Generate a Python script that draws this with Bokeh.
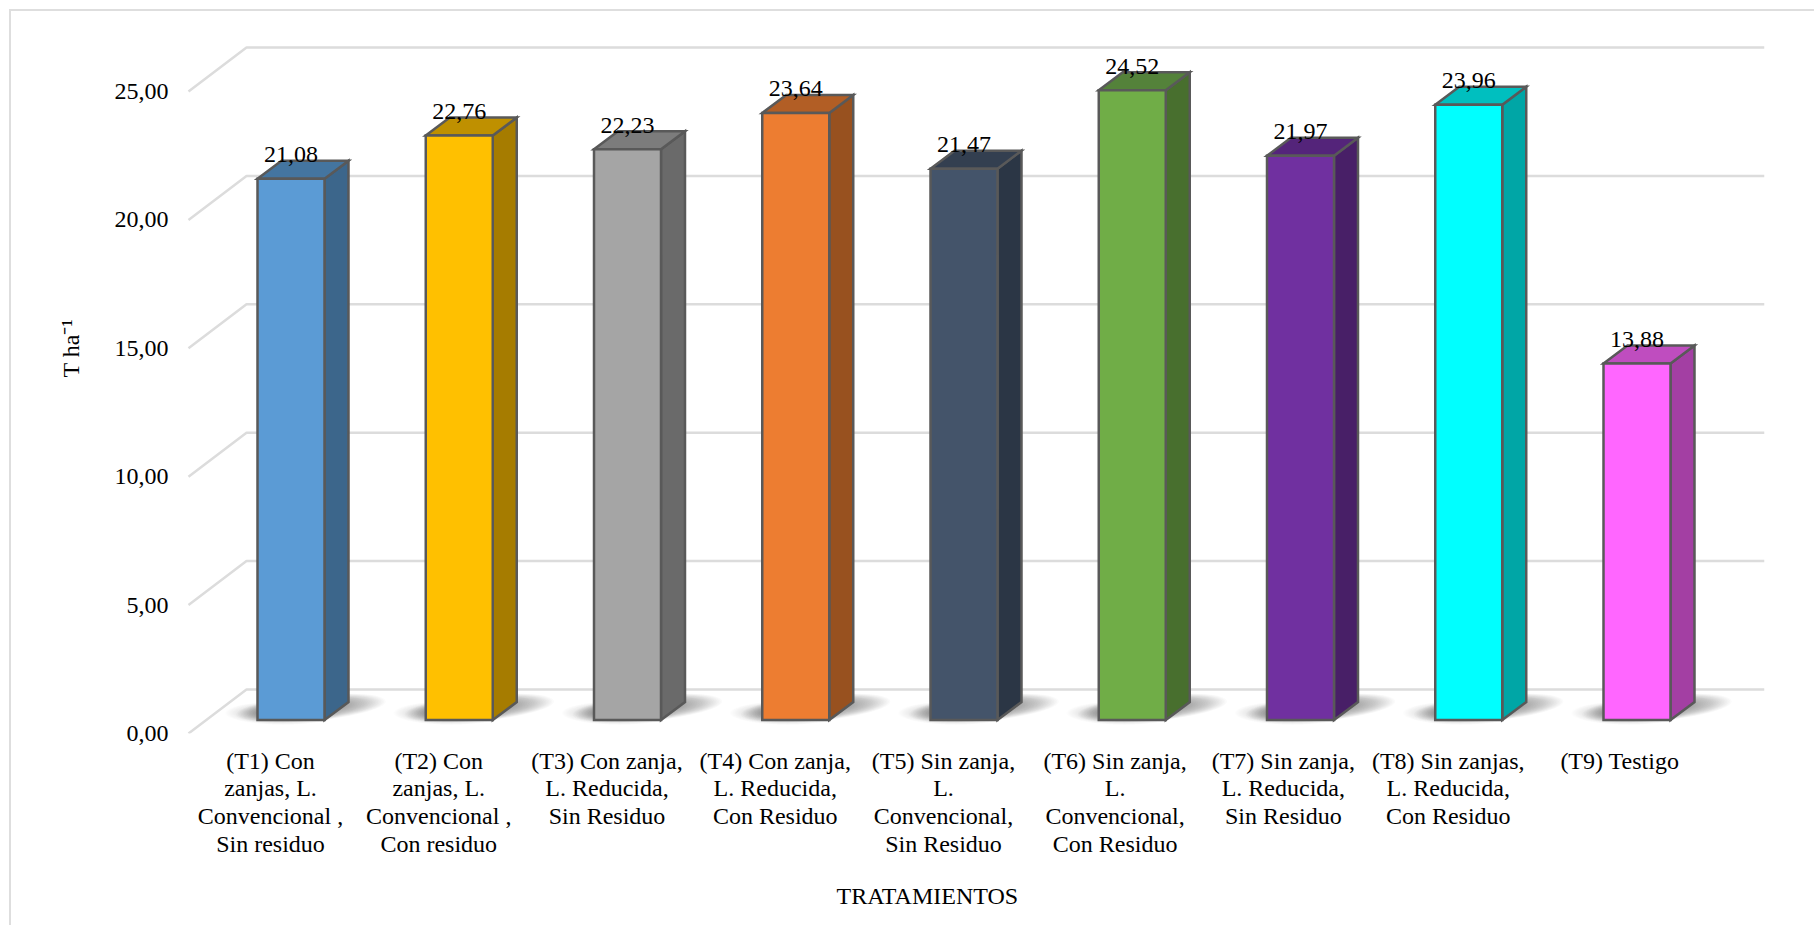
from bokeh.embed import file_html
from bokeh.models import FixedTicker, InlineStyleSheet, LinearAxis, Range1d, Title
from bokeh.plotting import figure
from bokeh.resources import INLINE

# Yield per treatment (T ha-1)
treatments = [
    "(T1) Con\nzanjas, L.\nConvencional ,\nSin residuo",
    "(T2) Con\nzanjas, L.\nConvencional ,\nCon residuo",
    "(T3) Con zanja,\nL. Reducida,\nSin Residuo",
    "(T4) Con zanja,\nL. Reducida,\nCon Residuo",
    "(T5) Sin zanja,\nL.\nConvencional,\nSin Residuo",
    "(T6) Sin zanja,\nL.\nConvencional,\nCon Residuo",
    "(T7) Sin zanja,\nL. Reducida,\nSin Residuo",
    "(T8) Sin zanjas,\nL. Reducida,\nCon Residuo",
    "(T9) Testigo",
]
values = [21.08, 22.76, 22.23, 23.64, 21.47, 24.52, 21.97, 23.96, 13.88]
value_labels = ["21,08", "22,76", "22,23", "23,64", "21,47", "24,52", "21,97", "23,96", "13,88"]
y_ticks = [0, 5, 10, 15, 20, 25]
y_tick_labels = ["0,00", "5,00", "10,00", "15,00", "20,00", "25,00"]

front_colors = ["#5B9BD5", "#FFC000", "#A5A5A5", "#ED7D31", "#44546A", "#70AD47", "#7030A0", "#00FFFF", "#FF66FF"]
top_colors = ["#4475A0", "#BF9000", "#7C7C7C", "#B25E25", "#333F50", "#54823A", "#54247A", "#00BFBF", "#BF4DBF"]
side_colors = ["#3C668B", "#A67C00", "#6A6A6A", "#98511F", "#2B3645", "#486F2E", "#481F67", "#00A6A6", "#A33FA3"]

FONT = "Liberation Serif"
W, H = 1814, 925
FRAME_L, FRAME_R, FRAME_T, FRAME_B = 185, 1764, 20, 733

# Pixel sizes of one unit along each scale
PX_PER_CAT = 168.25
PX_PER_VAL = 25.68
FIRST_TICK_PX = 270      # centre of the first category label
BAR_BASE_PX = 719.5      # baseline of the bars, set back from the axis plane

def dx(px):
    return px / PX_PER_CAT

def dv(px):
    return px / PX_PER_VAL

x_start = 1 + dx(FRAME_L - FIRST_TICK_PX)
x_end = 1 + dx(FRAME_R - FIRST_TICK_PX)

# Chart border: only its top and left edges fall inside the page
border_css = InlineStyleSheet(css="""
:host::after {
  content: "";
  position: absolute;
  left: 9px; top: 9px; right: 0; bottom: 0;
  border-left: 2.5px solid #DEDEDE;
  border-top: 2px solid #DEDEDE;
  pointer-events: none;
  z-index: 5;
}
""")

p = figure(
    width=W, height=H, output_backend="svg", toolbar_location=None,
    x_range=Range1d(x_start, x_end),
    y_range=Range1d(dv(BAR_BASE_PX - FRAME_B), dv(BAR_BASE_PX - FRAME_T)),
    y_axis_location=None,
    min_border_left=FRAME_L, min_border_right=W - FRAME_R,
    min_border_top=FRAME_T, min_border_bottom=H - FRAME_B,
    background_fill_color="white", border_fill_color="white",
    outline_line_color=None,
    stylesheets=[border_css],
)
p.grid.visible = False

# The scale and the walls sit on a plane in front of the bars
p.extra_y_ranges = {"front": Range1d(0, dv(FRAME_B - FRAME_T))}

yaxis = LinearAxis(
    y_range_name="front",
    ticker=FixedTicker(ticks=y_ticks),
    major_label_overrides=dict(zip(y_ticks, y_tick_labels)),
    major_label_text_font=FONT, major_label_text_font_size="24px",
    major_label_text_color="black", major_label_standoff=11,
    axis_line_color=None, major_tick_line_color=None, minor_tick_line_color=None,
)
p.add_layout(yaxis, "left")

# Later categories sit a touch to the right of the regular spacing
label_ticks = [1, 2, 3, 4, 5, 6.02, 7.02, 8, 9.02]

xaxis = p.xaxis[0]
xaxis.ticker = FixedTicker(ticks=label_ticks)
xaxis.major_label_overrides = dict(zip(label_ticks, treatments))
xaxis.major_label_text_font = FONT
xaxis.major_label_text_font_size = "24px"
xaxis.major_label_text_color = "black"
xaxis.major_label_text_line_height = 1.07
xaxis.major_label_standoff = 8
xaxis.major_label_orientation = "horizontal"
xaxis.axis_line_color = None
xaxis.major_tick_line_color = None
xaxis.minor_tick_line_color = None

# Axis titles are set as side titles so they can sit off the frame's centre;
# a blank title opens the gap under the category labels
p.add_layout(Title(text=" ", standoff=13, text_font=FONT, text_font_size="1px"), "below")
p.add_layout(Title(text="TRATAMIENTOS", align="left", offset=651, standoff=10,
                   text_font=FONT, text_font_size="24px", text_font_style="normal",
                   text_color="black"), "below")
p.add_layout(Title(text="T ha⁻¹", align="left", offset=356, standoff=55,
                   text_font=FONT, text_font_size="24px", text_font_style="normal",
                   text_color="black"), "left")

# Back wall gridlines with their slanted run back from the axis
x_wall_front = x_start + dx(188 - FRAME_L)
x_wall_back = x_start + dx(246 - FRAME_L)
for v in y_ticks:
    p.line([x_wall_front, x_wall_back, x_end], [v, v + dv(44), v + dv(44)],
           y_range_name="front", line_color="#DCDCDC", line_width=2.5)

BAR_W = dx(67)
DEPTH_X = dx(24)
DEPTH_Y = dv(18)

lefts = [i + 1 + dx(257 - FIRST_TICK_PX) for i in range(len(values))]
rights = [l + BAR_W for l in lefts]
centres = [l + BAR_W / 2 for l in lefts]

# Soft floor shadow built from stacked translucent ellipses:
# a faint wide pool plus a darker core towards the right of each bar
STEPS = 40
for step in range(STEPS):
    f = (1 - step / STEPS) ** 0.8
    p.ellipse([c - dx(8) for c in centres], [dv(7)] * len(centres),
              width=dx(116 * f), height=dv(24 * f),
              fill_color="#202020", fill_alpha=0.009, line_color=None)
    p.ellipse([c + dx(20) for c in centres], [dv(12)] * len(centres),
              width=dx(150 * f), height=dv(26 * f), angle=0.09,
              fill_color="#202020", fill_alpha=0.02, line_color=None)

# Box faces
p.patches(
    [[r, r + DEPTH_X, r + DEPTH_X, r] for r in rights],
    [[0, DEPTH_Y, v + DEPTH_Y, v] for v in values],
    fill_color=side_colors, line_color="#595959", line_width=2.5, line_join="miter",
)
p.patches(
    [[l, l + DEPTH_X, r + DEPTH_X, r] for l, r in zip(lefts, rights)],
    [[v, v + DEPTH_Y, v + DEPTH_Y, v] for v in values],
    fill_color=top_colors, line_color="#595959", line_width=2.5, line_join="miter",
)
p.quad(left=lefts, right=rights, bottom=0, top=values,
       fill_color=front_colors, line_color="#595959", line_width=2.5, line_join="miter")

p.text(centres, values, text=value_labels, text_font={"value": FONT}, text_font_size="24px",
       text_color="black", text_align="center", text_baseline="alphabetic", y_offset=-24)

open("out.html", "w").write(file_html(p, INLINE))
